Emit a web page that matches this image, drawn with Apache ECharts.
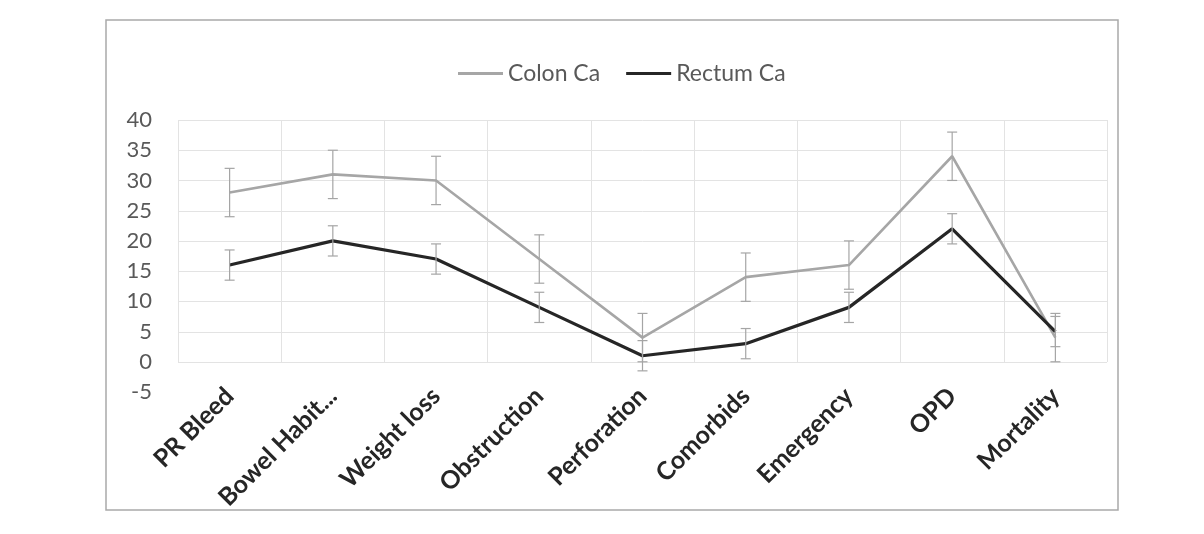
<!DOCTYPE html>
<html>
<head>
<meta charset="utf-8">
<script src="https://cdn.jsdelivr.net/npm/echarts@6/dist/echarts.min.js"></script>
<style>
html, body { margin: 0; padding: 0; background: #fff; }
#chart { width: 1204px; height: 534px; }
</style>
</head>
<body>
<div id="chart"></div>
<script>
var categories = ['PR Bleed', 'Bowel Habit...', 'Weight loss', 'Obstruction', 'Perforation', 'Comorbids', 'Emergency', 'OPD', 'Mortality']
var colonValues = [28, 31, 30, 17, 4, 14, 16, 34, 4]
var colonErr = [4, 4, 4, 4, 4, 4, 4, 4, 4]
var rectumValues = [16, 20, 17, 9, 1, 3, 9, 22, 5]
var rectumErr = [2.5, 2.5, 2.5, 2.5, 2.5, 2.5, 2.5, 2.5, 2.5]

var font = 'Lato, "Open Sans", sans-serif'
var gridColor = '#e3e3e3'

function errData(vals, errs) {
    return vals.map(function (v, i) { return [i, v - errs[i], v + errs[i]] })
}

// whisker with caps, drawn through the axes
function renderErr(params, api) {
    var lo = api.coord([api.value(0), api.value(1)])
    var hi = api.coord([api.value(0), api.value(2)])
    var w = 5
    var st = { stroke: '#a5a5a5', lineWidth: 1.2 }
    return {
        type: 'group',
        children: [
            { type: 'line', shape: { x1: lo[0], y1: lo[1], x2: hi[0], y2: hi[1] }, style: st },
            { type: 'line', shape: { x1: lo[0] - w, y1: lo[1], x2: lo[0] + w, y2: lo[1] }, style: st },
            { type: 'line', shape: { x1: hi[0] - w, y1: hi[1], x2: hi[0] + w, y2: hi[1] }, style: st }
        ]
    }
}

var chart = echarts.init(document.getElementById('chart'))
var option = {
    animation: false,
    graphic: [{
        type: 'rect',
        shape: { x: 106, y: 20, width: 1012, height: 490 },
        style: { fill: 'none', stroke: '#a9a9a9', lineWidth: 1.5 },
        silent: true
    }],
    legend: {
        data: ['Colon Ca', 'Rectum Ca'],
        left: 453,
        top: 57,
        icon: 'rect',
        itemWidth: 45,
        itemHeight: 3,
        itemGap: 26,
        textStyle: { fontFamily: font, fontSize: 23, color: '#595959' }
    },
    // grid 0 holds the data (-5..40), grid 1 only draws the gridlines (0..40)
    grid: [
        { left: 178, right: 97, top: 120, bottom: 142 },
        { left: 178, right: 97, top: 120, bottom: 172 }
    ],
    xAxis: [
        {
            type: 'category',
            data: categories,
            gridIndex: 0,
            axisLine: { show: false },
            axisTick: { show: false },
            splitLine: { show: false },
            axisLabel: {
                interval: 0,
                rotate: 45,
                margin: 0,
                fontFamily: font,
                fontSize: 25,
                fontWeight: 'bold',
                color: '#262626'
            }
        },
        {
            type: 'category',
            data: categories,
            gridIndex: 1,
            axisLine: { show: false },
            axisTick: { show: false },
            axisLabel: { show: false },
            splitLine: { show: true, interval: 0, lineStyle: { color: gridColor } }
        }
    ],
    yAxis: [
        {
            type: 'value',
            gridIndex: 0,
            min: -5,
            max: 40,
            interval: 5,
            axisLine: { show: false },
            axisTick: { show: false },
            splitLine: { show: false },
            axisLabel: { fontFamily: font, fontSize: 22, color: '#595959', margin: 26 }
        },
        {
            type: 'value',
            gridIndex: 1,
            min: 0,
            max: 40,
            interval: 5,
            axisLine: { show: false },
            axisTick: { show: false },
            axisLabel: { show: false },
            splitLine: { lineStyle: { color: gridColor } }
        }
    ],
    series: [
        {
            name: 'Colon Ca',
            type: 'line',
            data: colonValues,
            symbol: 'none',
            z: 3,
            lineStyle: { color: '#a6a6a6', width: 2.6 },
            itemStyle: { color: '#a6a6a6' }
        },
        {
            name: 'Rectum Ca',
            type: 'line',
            data: rectumValues,
            symbol: 'none',
            z: 4,
            lineStyle: { color: '#262626', width: 3.2 },
            itemStyle: { color: '#262626' }
        },
        {
            type: 'custom',
            data: errData(colonValues, colonErr),
            renderItem: renderErr,
            z: 5,
            silent: true
        },
        {
            type: 'custom',
            data: errData(rectumValues, rectumErr),
            renderItem: renderErr,
            z: 5,
            silent: true
        }
    ]
}
chart.setOption(option)
</script>
</body>
</html>
